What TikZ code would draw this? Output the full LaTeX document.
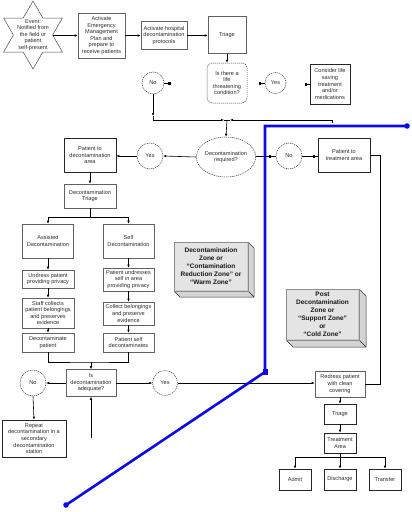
\documentclass[tikz,border=0pt]{standalone}
\usepackage{fontspec}
\setmainfont{Liberation Sans}
\usetikzlibrary{arrows.meta,shapes.geometric}
\definecolor{txt}{RGB}{45,45,45}
\definecolor{bl}{RGB}{10,10,235}
\definecolor{zf}{RGB}{228,228,228}
\definecolor{zs}{RGB}{212,212,212}
\begin{document}
\begin{tikzpicture}[x=1pt,y=-1pt,
  every node/.style={font=\fontsize{5.6}{6.6}\selectfont, text=txt, align=center, inner sep=0pt},
  box/.style={draw=black!62, line width=0.55pt, rectangle, fill=white},
  boxd/.style={draw=black!85, line width=0.6pt, rectangle, fill=white},
  dec/.style={draw=black!75, line width=0.5pt, dash pattern=on 1.2pt off 0.8pt, rounded corners=5pt, rectangle, fill=white},
  circ/.style={draw=black!75, line width=0.5pt, dash pattern=on 1.2pt off 0.8pt, circle, fill=white},
  ell/.style={draw=black!75, line width=0.5pt, dash pattern=on 1.2pt off 0.8pt, ellipse, fill=white},
  ln/.style={line width=0.6pt, draw=black},
  arr/.style={ln, -{Latex[length=3pt,width=2.6pt]}},
  sq/.style={ln, -{Square[length=2.2pt,width=2.2pt]}},
  zone/.style={font=\fontsize{6.5}{8}\selectfont\bfseries, text=black!90},
  zonefront/.style={fill=zf, draw=black!45, line width=0.4pt},
  zoneside/.style={fill=zs, draw=black!80, line width=0.5pt, line join=round}]
\useasboundingbox (0,0) rectangle (412,512);

% ---- star ----
\draw[draw=black!70, line width=0.5pt, fill=white]
  (33,1) -- (42.82,18) -- (62.44,18) -- (52.63,35) -- (62.44,52) -- (42.82,52)
  -- (33,69) -- (23.18,52) -- (3.56,52) -- (13.37,35) -- (3.56,18) -- (23.18,18) -- cycle;
\node (star) at (33,35) {Event:\\Notified from\\the field or\\patient\\self-present};
\coordinate (starE) at (52.6,35.5);

% ---- top row ----
\node[box, minimum width=47, minimum height=45] (b1) at (101.5,35.5) {Activate\\Emergency\\Management\\Plan and\\prepare to\\receive patients};
\node[box, minimum width=46, minimum height=28] (b2) at (164,35.5) {Activate hospital\\decontamination\\protocols};
\node[box, minimum width=38, minimum height=37] (t1) at (227,35) {Triage};
\node[dec, minimum width=40, minimum height=40] (life) at (227,83) {Is there a\\life\\threatening\\condition?};
\node[circ, minimum size=22] (no1) at (153,83) {No};
\node[circ, minimum size=21] (yes1) at (275.5,83) {Yes};
\node[boxd, minimum width=40, minimum height=40] (con) at (330,84) {Consider life\\saving\\treatment\\and/or\\medications};

\draw[arr] (starE) -- (starE -| b1.west);
\draw[arr] (b1.east) -- (b1.east -| b2.west);
\draw[arr] (b2.east) -- (b2.east -| t1.west);
\draw[arr] (t1.south) -- (life.north);
\draw[sq] (no1.east) -- ++(6,0);
\draw[sq] (yes1.west) -- ++(-6,0);
\draw[sq] (con.west) -- ++(-5,0);

\coordinate (j1) at (227,120);
\coordinate (j1l) at (224,120);
\coordinate (j1r) at (230,120);
\coordinate (j1e) at (332,120);
\coordinate (n1m) at (153,116);
\draw[arr] (no1.south) -- (n1m);
\draw[arr] (n1m) |- (j1l);
\draw[arr] (j1e) -- (j1r);
\draw[ln] (j1l) -- (j1r);
\draw[ln] (j1e) -- ++(0,2.5);

% ---- decontamination required row ----
\node[ell, minimum width=56, minimum height=40] (dr) at (226,157) {Decontamination\\required?};
\node[circ, minimum size=26] (yes2) at (150,156) {Yes};
\node[boxd, minimum width=52, minimum height=34] (pd) at (90,155) {Patient to\\decontamination\\area};
\node[circ, minimum size=26] (no2) at (289,156) {No};
\node[boxd, minimum width=52, minimum height=34] (pt) at (344,155) {Patient to\\treatment area};

\draw[arr] (j1) -- (dr.north);
\draw[arr] (dr.west) -- (yes2.east);
\draw[arr] (yes2.west) -- (yes2.west -| pd.east);
\coordinate (m1) at (271,156);
\coordinate (m2) at (315,156);
\draw[sq] (dr.east |- m1) -- (m1);
\draw[ln] (m1) -- (no2.west);
\draw[sq] (no2.east) -- (m2);
\draw[ln] (m2) -- (m2 -| pt.west);
\draw[ln] (pt.east) -- ++(10,0) coordinate (pr) |- (340,384) coordinate (rdE0);

% ---- decontamination branch ----
\node[box, minimum width=52, minimum height=24] (dt) at (90,196) {Decontamination\\Triage};
\node[box, minimum width=51, minimum height=34] (as) at (48,241) {Assisted\\Decontamination};
\node[box, minimum width=51, minimum height=34] (sf) at (128.5,241) {Self\\Decontamination};
\node[box, minimum width=52, minimum height=18] (un) at (48,279) {Undress patient\\providing privacy};
\node[box, minimum width=52, minimum height=30] (sc) at (48,313) {Staff collects\\patient belongings\\and preserves\\evidence};
\node[box, minimum width=52, minimum height=19] (dp) at (48,342.5) {Decontaminate\\patient};
\node[box, minimum width=51, minimum height=23] (su) at (128.5,279.5) {Patient undresses\\self in area\\providing privacy};
\node[box, minimum width=51, minimum height=23] (cb) at (128.5,313.5) {Collect belongings\\and preserve\\evidence};
\node[box, minimum width=51, minimum height=19] (sd) at (128.5,342.5) {Patient self\\decontaminates};

\draw[arr] (pd.south) -- (dt.north);
\coordinate (s1) at (90,217);
\draw[ln] (dt.south) -- (s1);
\draw[arr] (s1) -| (as.north);
\draw[arr] (s1) -| (sf.north);
\draw[arr] (as.south) -- (un.north);
\draw[arr] (un.south) -- (sc.north);
\draw[arr] (sc.south) -- (dp.north);
\draw[arr] (sf.south) -- (su.north);
\draw[arr] (su.south) -- (cb.north);
\draw[arr] (cb.south) -- (sd.north);
\coordinate (s3) at (91,362);
\draw[ln] (dp.south) |- (s3) -| (sd.south);

% ---- adequacy row ----
\node[box, minimum width=50, minimum height=27] (aq) at (91,383) {Is\\decontamination\\adequate?};
\node[circ, minimum size=26] (no3) at (33,383) {No};
\node[circ, minimum size=25] (yes3) at (165,383) {Yes};
\node[boxd, minimum width=64, minimum height=37] (rp) at (34,438.5) {Repeat\\decontamination in a\\secondary\\decontamination\\station};
\draw[arr] (s3) -- (aq.north);
\draw[arr] (aq.west) -- (no3.east);
\draw[arr] (aq.east) -- (yes3.west);
\draw[arr] (no3.south) -- (rp.north);
\coordinate (up) at (91,438);
\draw[arr] (up) -- (aq.south);

% ---- treatment side ----
\node[box, minimum width=50, minimum height=26] (rd) at (340,384) {Redress patient\\with clean\\covering};
\node[boxd, minimum width=32, minimum height=20] (t2) at (340,414) {Triage};
\node[boxd, minimum width=32, minimum height=20] (tr) at (340,443) {Treatment\\Area};
\node[boxd, minimum width=32, minimum height=21] (ad) at (295,479.5) {Admit};
\node[boxd, minimum width=32, minimum height=21] (dc) at (340,479.5) {Discharge};
\node[boxd, minimum width=32, minimum height=21] (tf) at (385,479.5) {Transfer};

\draw[arr] (yes3.east) -- (yes3.east -| rd.west);
\draw[ln] (pr) |- (rd.east);
\draw[arr] (rd.south) -- (t2.north);
\draw[arr] (t2.south) -- (tr.north);
\coordinate (s2) at (340,457);
\draw[ln] (tr.south) -- (s2);
\draw[arr] (s2) -| (ad.north);
\draw[arr] (s2) -- (dc.north);
\draw[arr] (s2) -| (tf.north);

% ---- zone boxes ----
\fill[zonefront] (174,242) rectangle (248,291);
\draw[zoneside] (248,242) -- (254,248) -- (254,297) -- (248,291) -- cycle;
\draw[zoneside] (174,291) -- (248,291) -- (254,297) -- (180,297) -- cycle;
\draw[black!45, line width=0.4pt] (174,242) rectangle (248,291);
\node[zone] (z1) at (211,266.5) {Decontamination\\Zone or\\“Contamination\\Reduction Zone” or\\“Warm Zone”};

\fill[zonefront] (286,289) rectangle (359,340);
\draw[zoneside] (359,289) -- (366,296) -- (366,347) -- (359,340) -- cycle;
\draw[zoneside] (286,340) -- (359,340) -- (366,347) -- (293,347) -- cycle;
\draw[black!45, line width=0.4pt] (286,289) rectangle (359,340);
\node[zone] (z2) at (322.5,314.5) {Post\\Decontamination\\Zone or\\“Support Zone”\\or\\“Cold Zone”};

% ---- blue line ----
\coordinate (bA) at (407,126);
\coordinate (bB) at (265,126);
\coordinate (bC) at (265,372);
\coordinate (bD) at (66,505);
\draw[bl, line width=2.6pt, line join=miter] (bA) -- (bB) -- (bC) -- (bD);
\fill[bl] (bA) circle[radius=2.8pt];
\fill[bl] (bD) circle[radius=2.8pt];
\fill[bl] (262.5,369) rectangle (267.5,374.5);
\end{tikzpicture}
\end{document}
